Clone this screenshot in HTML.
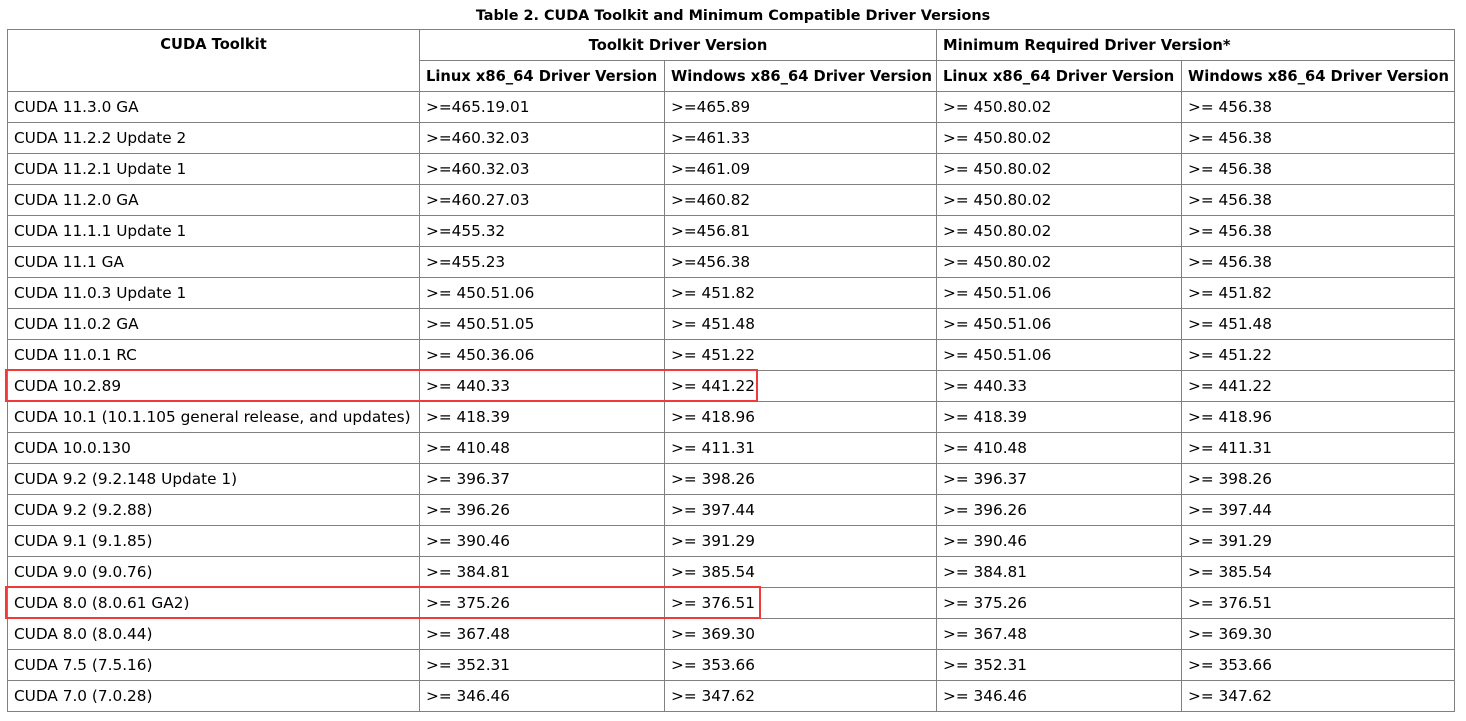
<!DOCTYPE html>
<html><head><meta charset="utf-8"><style>
body{margin:0;width:1466px;height:721px;background:#fff;position:relative;overflow:hidden;font-family:"DejaVu Sans","Liberation Sans",sans-serif;color:#000}
#title{position:absolute;left:0;width:1466px;top:8px;text-align:center;font-weight:bold;font-size:14.4px}
.c{position:absolute;box-sizing:border-box;border:1px solid #808080;font-size:15.3px;padding-left:6px;display:flex;align-items:center;white-space:nowrap;overflow:hidden}
.h{font-weight:bold;font-size:14.7px}
.box{position:absolute;border:2px solid #f03a3a;box-sizing:border-box}
</style></head><body>
<div id="title">Table 2. CUDA Toolkit and Minimum Compatible Driver Versions</div>
<div id="t"></div>
<div class="box" style="left:5px;top:369px;width:753px;height:33px"></div>
<div class="box" style="left:5px;top:586px;width:756px;height:33px"></div>
<script>
const xs=[7,419,664,936,1181,1454];
const rows=[
["CUDA 11.3.0 GA",">=465.19.01",">=465.89",">= 450.80.02",">= 456.38"],
["CUDA 11.2.2 Update 2",">=460.32.03",">=461.33",">= 450.80.02",">= 456.38"],
["CUDA 11.2.1 Update 1",">=460.32.03",">=461.09",">= 450.80.02",">= 456.38"],
["CUDA 11.2.0 GA",">=460.27.03",">=460.82",">= 450.80.02",">= 456.38"],
["CUDA 11.1.1 Update 1",">=455.32",">=456.81",">= 450.80.02",">= 456.38"],
["CUDA 11.1 GA",">=455.23",">=456.38",">= 450.80.02",">= 456.38"],
["CUDA 11.0.3 Update 1",">= 450.51.06",">= 451.82",">= 450.51.06",">= 451.82"],
["CUDA 11.0.2 GA",">= 450.51.05",">= 451.48",">= 450.51.06",">= 451.48"],
["CUDA 11.0.1 RC",">= 450.36.06",">= 451.22",">= 450.51.06",">= 451.22"],
["CUDA 10.2.89",">= 440.33",">= 441.22",">= 440.33",">= 441.22"],
["CUDA 10.1 (10.1.105 general release, and updates)",">= 418.39",">= 418.96",">= 418.39",">= 418.96"],
["CUDA 10.0.130",">= 410.48",">= 411.31",">= 410.48",">= 411.31"],
["CUDA 9.2 (9.2.148 Update 1)",">= 396.37",">= 398.26",">= 396.37",">= 398.26"],
["CUDA 9.2 (9.2.88)",">= 396.26",">= 397.44",">= 396.26",">= 397.44"],
["CUDA 9.1 (9.1.85)",">= 390.46",">= 391.29",">= 390.46",">= 391.29"],
["CUDA 9.0 (9.0.76)",">= 384.81",">= 385.54",">= 384.81",">= 385.54"],
["CUDA 8.0 (8.0.61 GA2)",">= 375.26",">= 376.51",">= 375.26",">= 376.51"],
["CUDA 8.0 (8.0.44)",">= 367.48",">= 369.30",">= 367.48",">= 369.30"],
["CUDA 7.5 (7.5.16)",">= 352.31",">= 353.66",">= 352.31",">= 353.66"],
["CUDA 7.0 (7.0.28)",">= 346.46",">= 347.62",">= 346.46",">= 347.62"]];
const t=document.getElementById('t');
function cell(x0,x1,y0,y1,txt,cls,center){
 const d=document.createElement('div');
 d.className='c '+cls;
 d.style.left=x0+'px';d.style.width=(x1-x0+1)+'px';d.style.top=y0+'px';d.style.height=(y1-y0+1)+'px';
 if(center){d.style.justifyContent='center';d.style.paddingLeft='0';}
 d.textContent=txt;
 
 
 t.appendChild(d);return d;
}
const h1=cell(xs[0],xs[1],29,91,'CUDA Toolkit','h',true);
h1.style.alignItems='flex-start';h1.style.paddingTop='6px';
cell(xs[1],xs[3],29,60,'Toolkit Driver Version','h',true);
cell(xs[3],xs[5],29,60,'Minimum Required Driver Version*','h',false);
const sub=['Linux x86_64 Driver Version','Windows x86_64 Driver Version','Linux x86_64 Driver Version','Windows x86_64 Driver Version'];
for(let i=0;i<4;i++)cell(xs[i+1],xs[i+2],60,91,sub[i],'h',false);
rows.forEach((r,ri)=>{const y=91+ri*31;r.forEach((v,ci)=>cell(xs[ci],xs[ci+1],y,y+31,v,'',false));});
</script>
</body></html>
